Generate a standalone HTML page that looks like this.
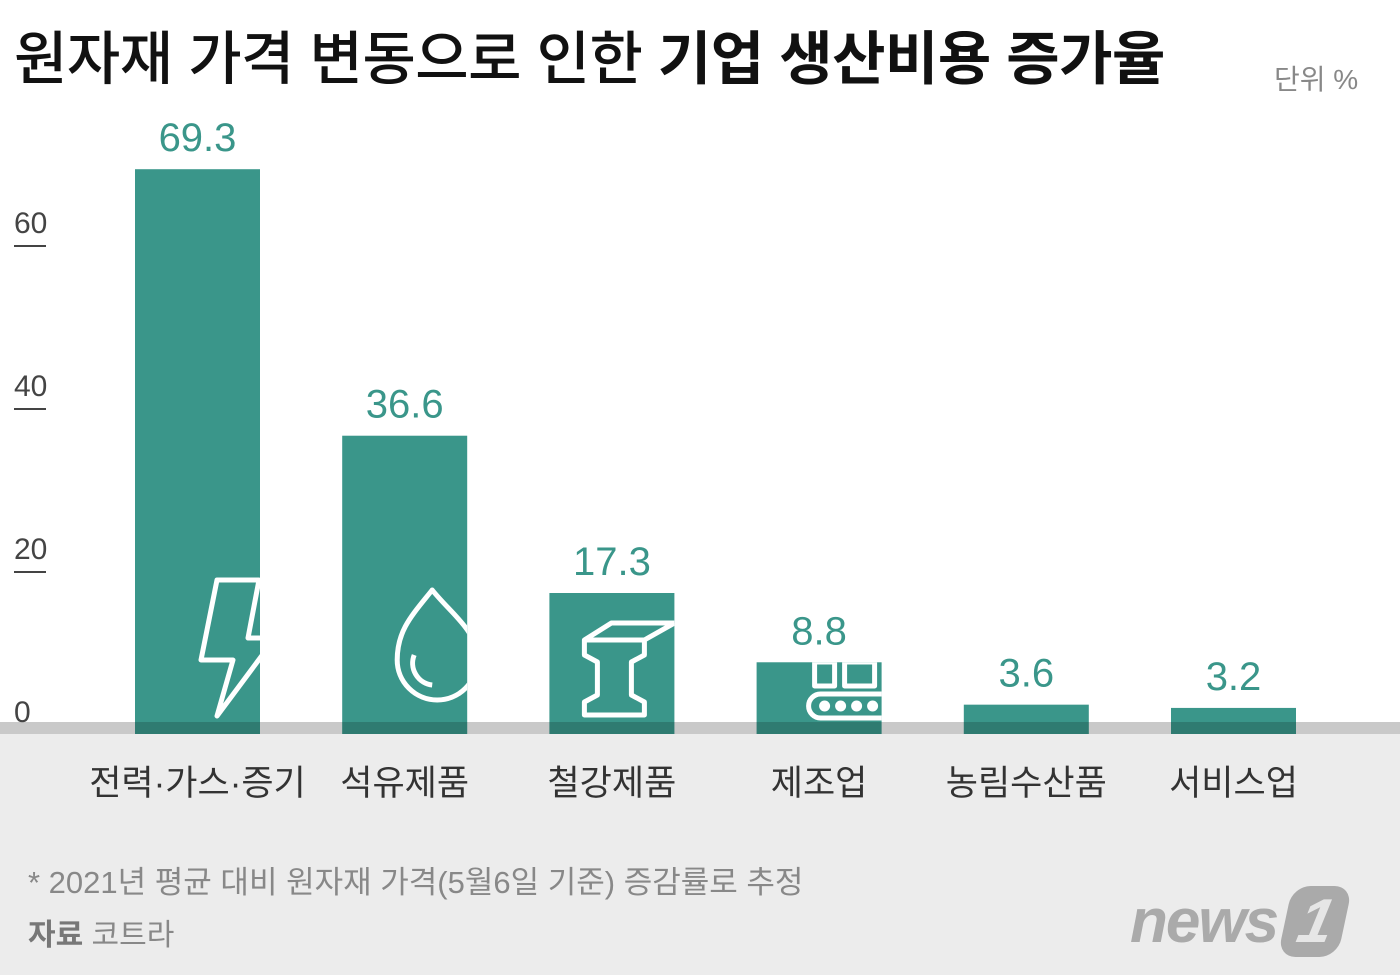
<!DOCTYPE html>
<html><head><meta charset="utf-8"><style>
body{margin:0;width:1400px;height:975px;overflow:hidden;background:#fff;font-family:"Liberation Sans","Noto Sans CJK KR",sans-serif;}
#wrap{position:relative;width:1400px;height:975px;}
.t{position:absolute;white-space:nowrap;}
</style></head><body>
<div id="wrap">
<div class="t" style="left:14px;top:12px;font-size:58px;color:#111;letter-spacing:-0.5px;font-weight:500">원자재 가격 변동으로 인한 <b>기업 생산비용 증가율</b></div>
<div class="t" style="left:1274px;top:58px;font-size:28px;color:#888">단위 %</div>
<svg id="chart" width="1400" height="975" style="position:absolute;left:0;top:0"></svg>
<div class="t" style="left:28px;top:857px;font-size:31px;color:#888">* 2021년 평균 대비 원자재 가격(5월6일 기준) 증감률로 추정</div>
<div class="t" style="left:28px;top:910px;font-size:30px;color:#888"><b style="color:#777">자료</b> 코트라</div>
<div class="t" style="left:1130px;top:886px;font-size:62px;color:#aaa;font-style:italic;font-weight:bold;letter-spacing:-2px">news<span style="display:inline-block;background:#aaa;color:#e6e6e6;border-radius:18px;padding:0 14px;margin-left:8px;transform:skewX(-12deg)">1</span></div>
</div>
<script>
const categories=["전력·가스·증기","석유제품","철강제품","제조업","농림수산품","서비스업"];
const values=[69.3,36.6,17.3,8.8,3.6,3.2];
const valueLabels=["69.3","36.6","17.3","8.8","3.6","3.2"];
const ticks=[0,20,40,60];
const NS="http://www.w3.org/2000/svg";
const svg=document.getElementById('chart');
const y0=734,k=8.15,x0=135,step=207.2,bw=125;
const y=v=>y0-v*k, x=i=>x0+i*step;
function mk(t,a,p){const e=document.createElementNS(NS,t);for(const n in a)e.setAttribute(n,a[n]);(p||svg).appendChild(e);return e;}
const bg=mk('rect',{x:0,y:734,width:1400,height:241,fill:'#ececec'});


const band=mk('rect',{x:0,y:722,width:1400,height:12,fill:'#c9c9c9'});


ticks.forEach(t=>{
  const g=mk('g',{});
  
  
  const tx=mk('text',{x:14,y:y(t)-(t==0?12:12),'font-size':30,fill:'#444','font-family':'Liberation Sans, sans-serif'},g);tx.textContent=t;
  if(t>0)mk('line',{x1:14,x2:46,y1:y(t)+1,y2:y(t)+1,stroke:'#444','stroke-width':2},g);
});
const defs=mk('defs',{});
values.forEach((v,i)=>{
  const cp=mk('clipPath',{id:'c'+i},defs);mk('rect',{x:x(i),y:y(v),width:bw,height:y0-y(v)},cp);
  const b=mk('rect',{x:x(i),y:y(v),width:bw,height:y0-y(v),fill:'#3a968a'});
  
  
  mk('rect',{x:x(i),y:722,width:bw,height:12,fill:'rgba(0,0,0,0.18)'});
  const vl=mk('text',{x:x(i)+bw/2,y:y(v)-18,'text-anchor':'middle','font-size':40,fill:'#3a968a','font-family':'Liberation Sans, sans-serif'});
  vl.textContent=valueLabels[i];
  
  
  const cl=mk('text',{x:x(i)+bw/2,y:795,'text-anchor':'middle','font-size':35,fill:'#333','font-family':'Liberation Sans, Noto Sans CJK KR, sans-serif'});
  cl.textContent=categories[i];
  
  
  const g=mk('g',{'clip-path':'url(#c'+i+')',fill:'none',stroke:'#fff','stroke-width':5,'stroke-linejoin':'round'});
  
  
  const X=x(i);
  if(i==0)mk('path',{d:`M${X+82} ${580} L${X+124} 580 L${X+113} 638 L${X+140} 638 L${X+82} 716 L${X+98} 660 L${X+66} 660 Z`},g);
  if(i==1){mk('path',{d:`M${X+90} 590 C${X+70} 615 ${X+55} 630 ${X+55} 660 A40 40 0 0 0 ${X+135} 660 C${X+135} 630 ${X+110} 615 ${X+90} 590 Z`},g);mk('path',{d:`M${X+72} 655 A22 22 0 0 0 ${X+90} 685`},g);}
  if(i==2){mk('path',{d:`M${X+35} 640 L${X+95} 640 L${X+95} 655 L${X+82} 662 L${X+82} 695 L${X+95} 702 L${X+95} 715 L${X+35} 715 L${X+35} 702 L${X+48} 695 L${X+48} 662 L${X+35} 655 Z M${X+35} 640 L${X+62} 623 L${X+125} 623 M${X+95} 640 L${X+125} 623`},g);}
  if(i==3){mk('rect',{x:X+58,y:662,width:20,height:24},g);mk('rect',{x:X+88,y:662,width:30,height:24},g);mk('rect',{x:X+52,y:694,width:90,height:24,rx:12},g);[68,84,100,116].forEach(d=>mk('circle',{cx:X+d,cy:706,r:3,fill:'#fff'},g));}
});
</script>
</body></html>
